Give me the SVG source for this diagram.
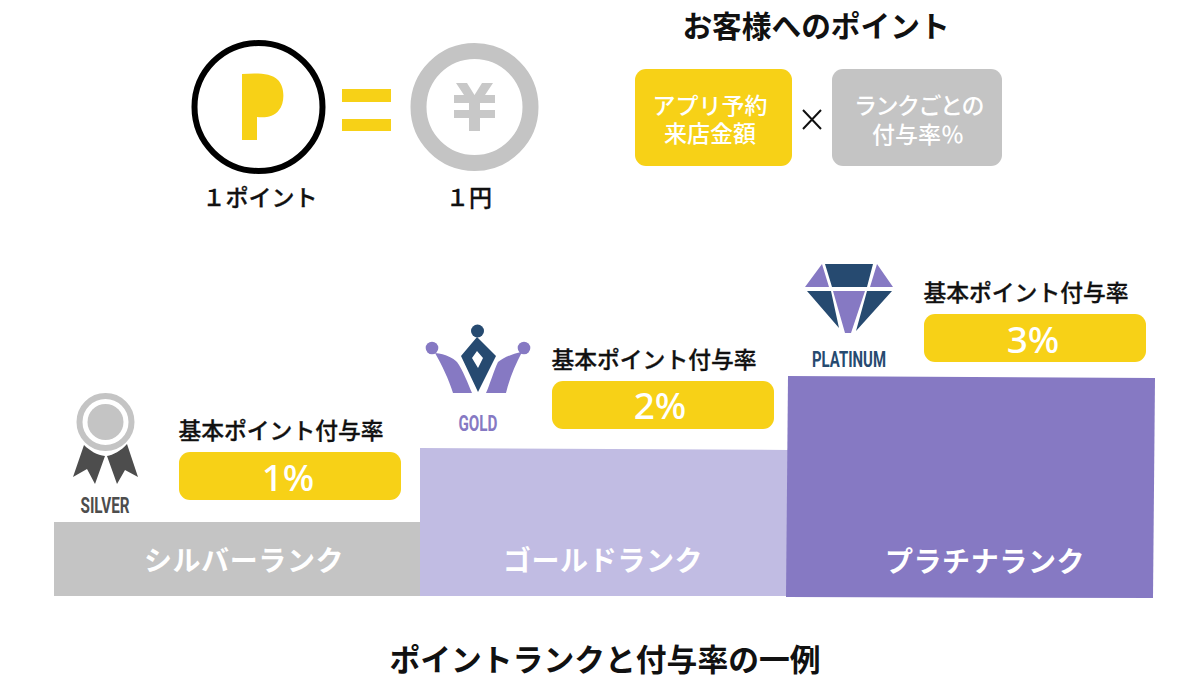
<svg xmlns="http://www.w3.org/2000/svg" width="1200" height="700" viewBox="0 0 1200 700">
<style>
text{font-family:"Noto Sans CJK JP","Noto Sans",sans-serif;text-anchor:middle}
.k{fill:#111;font-weight:700}
.m{fill:#111;font-weight:500;stroke:#111;stroke-width:.3px}
.t{font-size:22.800px}
.w{fill:#fff;font-weight:500;font-size:23px}
.lab{font-size:28px;letter-spacing:.6px;fill:#fff;font-weight:700}
.pc{font-family:"Noto Sans",sans-serif;font-size:37px;fill:#fff;font-weight:500}
.y{fill:#f7d117}
.cap{font-family:"Liberation Sans Narrow","Roboto","Liberation Sans",sans-serif;font-weight:700;font-size:22px}
</style>
<rect width="1200" height="700" fill="#fff"/>
<g id="point-coin">
<circle cx="258.500" cy="107" r="64" fill="#fff" stroke="#000" stroke-width="6"/>
<path class="y" d="M242 74C258 73 271 73 278 80C285 87 285 103 279 110C274 117 265 118 257 117L257 140L242 140Z"/>
<text class="m" x="260" y="206" font-size="23">１ポイント</text>
</g>
<g id="equals"><rect class="y" x="342" y="89" width="49" height="13"/><rect class="y" x="342" y="119" width="49" height="12"/></g>
<g id="yen-coin">
<circle cx="474.500" cy="107" r="56" fill="#fff" stroke="#c4c4c4" stroke-width="16"/>
<path fill="#c8c8c8" d="M456 83H467L474.500 95L482 83H493L485 95H495V103H480V110H495V118H480V131H469V118H454V110H469V103H454V95H464Z"/>
<text class="m" x="469" y="206" font-size="23">１円</text>
</g>
<g id="heading"><text class="k" x="816" y="37" font-size="29.700">お客様へのポイント</text></g>
<g id="booking-box">
<rect class="y" x="635" y="69" width="157" height="97" rx="11"/>
<text class="w"><tspan x="710" y="114">アプリ予約</tspan><tspan x="710" y="142">来店金額</tspan></text>
</g>
<g id="times"><path d="M803 110L821 129M821 110L803 129" stroke="#111" stroke-width="2" fill="none"/></g>
<g id="rate-box">
<rect x="832" y="69" width="170" height="97" rx="11" fill="#c4c4c4"/>
<text class="w"><tspan x="918.500" y="114" letter-spacing="-1.500">ランクごとの</tspan><tspan x="918" y="143">付与率％</tspan></text>
</g>
<g id="silver-rank">
<rect x="54" y="522" width="366" height="74" fill="#c4c4c4"/>
<text class="lab" x="244" y="571">シルバーランク</text>
<circle cx="105.500" cy="422" r="26" fill="#fff" stroke="#c4c4c4" stroke-width="6"/>
<circle cx="105.500" cy="422" r="18" fill="#c4c4c4"/>
<path fill="#4d4d4d" d="M84 445C90 451 97 455 105 456L95 484L87 469L73 477ZM127 444C121 451 113 455 107 456L117 484L125 470L138 477Z"/>
<text class="cap" x="105" y="513" fill="#4d4d4d" textLength="49" lengthAdjust="spacingAndGlyphs">SILVER</text>
<text class="m t" x="281" y="439">基本ポイント付与率</text>
<rect class="y" x="179" y="452" width="222" height="48" rx="11"/>
<text class="pc" x="288" y="491">1%</text>
</g>
<g id="gold-rank">
<polygon points="420,448 788,450 787,596 420,596" fill="#c1bce3"/>
<text class="lab" x="603" y="571">ゴールドランク</text>
<circle cx="477.500" cy="331" r="6.500" fill="#264a70"/>
<path fill="#264a70" fill-rule="evenodd" d="M477 337L496 356L478 392L461 356ZM477 351L472 358L478 368L483 358Z"/>
<circle cx="432" cy="348" r="6.300" fill="#8679c3"/>
<circle cx="524" cy="348" r="6.300" fill="#8679c3"/>
<path fill="#8679c3" d="M435 353C446 354 453 358 457 362C463 370 468 384 472 393H453C449 380 442 365 435 353ZM522 352C511 354 503 358 498 362C494 370 490 384 486 393H506C509 380 515 365 522 352Z"/>
<text class="cap" x="478" y="431" fill="#8679c3" textLength="39" lengthAdjust="spacingAndGlyphs">GOLD</text>
<text class="m t" x="654" y="368">基本ポイント付与率</text>
<rect class="y" x="552" y="381" width="222" height="48" rx="11"/>
<text class="pc" x="660" y="419">2%</text>
</g>
<g id="platinum-rank">
<polygon points="788,376 1155,378 1153,598 786,597" fill="#8679c3"/>
<text class="lab" x="985" y="572">プラチナランク</text>
<path fill="#264a70" d="M825 264H873L867 287H832ZM807 291H831L839 328ZM867 291H892L856 331Z"/>
<path fill="#8679c3" d="M822 264L829 287H805ZM877 264L893 287H870ZM833 291H865L851 333H845Z"/>
<text class="cap" x="849" y="367" fill="#264a70" textLength="74" lengthAdjust="spacingAndGlyphs">PLATINUM</text>
<text class="m t" x="1026" y="301">基本ポイント付与率</text>
<rect class="y" x="924" y="314" width="222" height="48" rx="11"/>
<text class="pc" x="1033" y="353">3%</text>
</g>
<g id="caption"><text class="k" x="605" y="671" font-size="30.800">ポイントランクと付与率の一例</text></g>
<g id="connectors"/>
</svg>
